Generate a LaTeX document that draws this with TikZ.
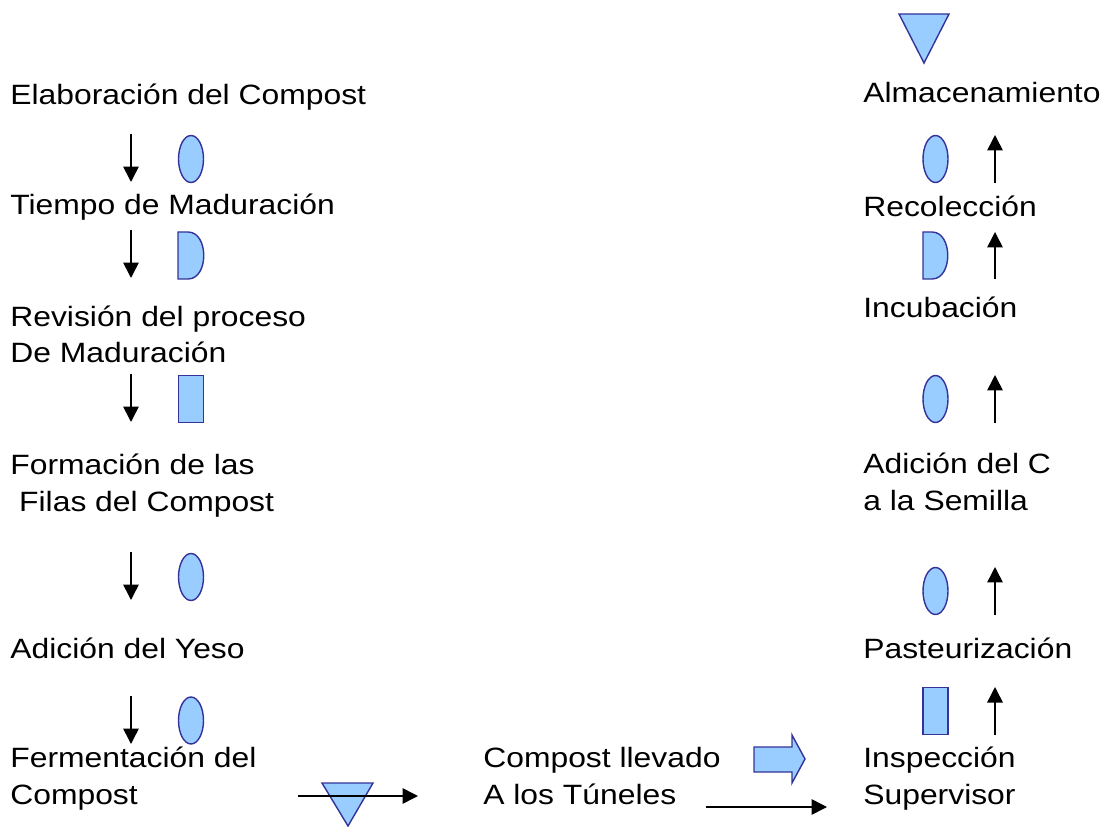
\documentclass[tikz,border=0pt]{standalone}
\usepackage{fontspec}
\setmainfont{Liberation Sans}[FakeStretch=1.14]
\usepackage{tikz}
\usetikzlibrary{arrows.meta, shapes.geometric, positioning}
\usepackage{xcolor}
\definecolor{symfill}{HTML}{99CCFF}
\definecolor{symline}{HTML}{333399}

\tikzset{
	lbl/.style={anchor=base west, inner sep=0, align=left, font=\fontsize{15.9}{20.5}\selectfont},
	sym/.style={draw=symline, fill=symfill, line width=0.8pt},
	op/.style={sym, ellipse, minimum width=0.5cm, minimum height=0.94cm, inner sep=0},
	insp/.style={sym, rectangle, minimum width=0.5cm, minimum height=0.94cm, inner sep=0},
	flow/.style={-{Triangle[length=0.31cm,width=0.31cm]}, line width=0.9pt}
}

\begin{document}
\begin{tikzpicture}[x=0.02cm, y=-0.02cm]
		\useasboundingbox (0,0) rectangle (1102,827);
		
		%elaboracion
		\node[lbl] (elab) at (10,105) {Elaboración del Compost};
		%tiempo
		\node[lbl] (tiempo) at (10,215) {Tiempo de Maduración};
		%revision
		\node[lbl] (revision) at (10,363) {Revisión del proceso\\De Maduración};
		%formacion
		\node[lbl] (formacion) at (10,511) {Formación de las\\\ Filas del Compost};
		%yeso
		\node[lbl] (yeso) at (10,658) {Adición del Yeso};
		%fermentacion
		\node[lbl] (ferm) at (10,804) {Fermentación del\\Compost};
		%tuneles
		\node[lbl] (tuneles) at (483,804) {Compost llevado\\A los Túneles};
		%almacenamiento
		\node[lbl] (almac) at (863,103) {Almacenamiento};
		%recoleccion
		\node[lbl] (recol) at (863,217) {Recolección};
		%incubacion
		\node[lbl] (incub) at (863,318) {Incubación};
		%semilla
		\node[lbl] (semilla) at (863,510) {Adición del C\\a la Semilla};
		%pasteurizacion
		\node[lbl] (pasteur) at (863,658) {Pasteurización};
		%inspeccion
		\node[lbl] (inspec) at (863,804) {Inspección\\Supervisor};
		
		% left symbols
		\node[op] (op1) at (191,159) {};
		\draw[sym] (178,232) -- (188,232) .. controls (209,232) and (209,279) .. (188,279) -- (178,279) -- cycle;
		\node[insp] (insp1) at (191,399) {};
		\node[op] (op2) at (191,577) {};
		\node[op] (op3) at (191,720.5) {};
		
		% right symbols
		\node[op] (op4) at (935.5,159) {};
		\draw[sym] (923,232) -- (932,232) .. controls (953,232) and (953,279) .. (932,279) -- (923,279) -- cycle;
		\node[op] (op5) at (935.5,399) {};
		\node[op] (op6) at (935.5,591) {};
		\node[insp] (insp2) at (935.5,711) {};
		
		% storage
		\draw[sym] (899,14) -- (949,14) -- (924,63) -- cycle;
		\draw[sym] (322,783) -- (373,783) -- (348,826) -- cycle;
		
		% transport
		\draw[sym] (754,747) -- (792,747) -- (792,735) -- (805,759) -- (792,783) -- (792,772) -- (754,772) -- cycle;
		
		% down arrows
		\foreach \i/\a/\b in {1/134/182, 2/230/278, 3/374/422, 4/552/600, 5/696/744} {
			\coordinate (ls\i) at (131,\a);
			\coordinate (le\i) at (131,\b);
			\draw[flow] (ls\i) -- (le\i);
		}
		
		% up arrows
		\foreach \i/\a/\b in {1/183/135, 2/279/232, 3/423/375, 4/615/567, 5/735/687} {
			\coordinate (rs\i) at (995,\a);
			\coordinate (re\i) at (995,\b);
			\draw[flow] (rs\i) -- (re\i);
		}
		
		% across
		\coordinate (hs1) at (298,796);
		\coordinate (he1) at (418,796);
		\draw[flow] (hs1) -- (he1);
		\coordinate (hs2) at (706,807);
		\coordinate (he2) at (827,807);
		\draw[flow] (hs2) -- (he2);
		
\end{tikzpicture}
\end{document}
